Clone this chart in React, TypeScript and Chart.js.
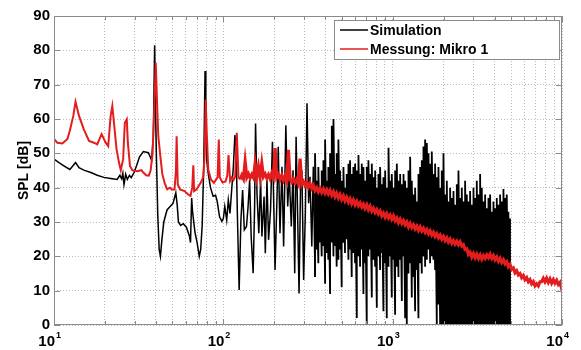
import React, { useEffect, useRef } from "react";
import { Chart, registerables } from "chart.js";

Chart.register(...registerables);

// ---------- axis definitions ----------
const xGridValues = [
  10, 20, 30, 40, 50, 60, 70, 80, 90,
  100, 200, 300, 400, 500, 600, 700, 800, 900,
  1000, 2000, 3000, 4000, 5000, 6000, 7000, 8000, 9000, 10000,
];
const xLabelValues = [10, 100, 1000, 10000];
const xLabelBase = "10";
const xLabelExponents = ["1", "2", "3", "4"];
const yTickValues = [0, 10, 20, 30, 40, 50, 60, 70, 80, 90];

const seriesNames = ["Simulation", "Messung: Mikro 1"];
const yAxisTitle = "SPL [dB]";

// ---------- Simulation: low frequency part (Hz / dB) ----------
const simLowFreq = [
  10, 10.7, 11.5, 12.4, 12.8, 13.4, 14.05, 15, 16.5, 18,
  19.7, 21.6, 23.6, 24.5, 25.1, 25.5, 25.9, 26.5, 27.1, 27.9,
  28.6, 29.7, 30.8, 32, 33.7, 36.1, 37.7, 38.6, 39.3, 39.8,
  40.3, 41, 41.8, 42.5, 43.4, 44.5, 46.5, 48.5, 50.5, 52.4,
  53.4, 54.3, 56, 58, 60.5, 63, 64, 65, 65.8, 68,
  70, 72.1, 73.5, 75, 76.5, 77.3, 78, 78.8, 79.8, 81.5,
  84, 87, 90, 92, 95, 98, 100, 102, 104.7, 107,
  109.5, 112, 114.6, 117, 119, 121, 124, 127, 130, 133,
  137, 140, 143, 146, 150, 153, 155, 158, 162, 166,
  169, 174, 177, 181, 185, 190, 195, 199, 202, 208,
  211, 216, 222, 227, 234, 240, 245, 252, 258, 264,
  269, 275, 280, 286, 291, 298, 305, 312, 319, 325,
  333, 340,
];
const simLowSPL = [
  48.3, 47.3, 46.3, 45.3, 46.1, 47.3, 45.8, 45.1, 44.4, 43.6,
  43.0, 42.7, 42.4, 43.6, 42.6, 44.2, 40.9, 43.9, 42.4, 43.6,
  42.9, 44.4, 46.5, 49, 50.5, 50.2, 48, 55, 81.5, 62,
  48, 32, 22, 20, 25, 30, 33.5, 34.5, 35.5, 38.5,
  35, 30, 29, 29.5, 28.5, 26, 24, 37, 33, 27,
  24, 20, 22, 29, 45, 60, 74, 57, 48, 44,
  40, 37.5, 37.8, 36, 31.5, 30.2, 31, 34.5, 30.6, 36.4,
  32.5, 39.3, 46.1, 55.3, 51.9, 32.5, 10.2, 30.6, 39.3, 27.7,
  28.7, 34.5, 42.2, 25.8, 15.1, 34.5, 58.7, 38.4, 26.7, 42.2,
  25.8, 37.4, 20.9, 42.2, 24.8, 33.5, 53.4, 32.5, 16, 39.3,
  51.9, 26.7, 46.1, 22.9, 58.2, 34.5, 44.2, 28.7, 45.1, 15.1,
  54.8, 30.6, 9.2, 42.2, 45.1, 13.1, 32.5, 64.6, 35.5, 43.2,
  22.9, 46.1,
];

// ---------- shared frequency grid for the dense part (Hz) ----------
const gridFreq = [
  107.3, 109.7, 112.2, 114.8, 117.4, 120.1, 122.9, 125.7, 128.6, 131.5,
  134.5, 137.6, 140.7, 144.0, 147.3, 150.6, 154.1, 157.6, 161.2, 164.9,
  168.7, 172.5, 176.5, 180.5, 184.7, 188.9, 193.2, 197.6, 202.2, 206.8,
  211.5, 216.4, 221.3, 226.4, 231.6, 236.9, 242.3, 247.8, 253.5, 259.3,
  265.2, 271.3, 277.5, 283.9, 290.4, 297.0, 303.8, 310.8, 317.9, 325.2,
  332.6, 340.2,
  348, 356, 364, 372, 381, 390, 399, 408, 417, 427,
  437, 447, 457, 467, 478, 489, 500, 512, 523, 535,
  548, 560, 573, 586, 600, 614, 628, 642, 657, 672,
  687, 703, 719, 736, 753, 770, 788, 806, 824, 843,
  862, 882, 903, 923, 945, 966, 988, 1011, 1034, 1058,
  1082, 1107, 1133, 1159, 1185, 1212, 1240, 1268, 1297, 1327,
  1357, 1388, 1420, 1453, 1486, 1520, 1555, 1591, 1627, 1664,
  1702, 1741, 1781, 1822, 1864, 1907, 1950, 1995, 2041, 2088,
  2135, 2184, 2234, 2286, 2338, 2392, 2446, 2502, 2560, 2618,
  2678, 2740, 2802, 2866, 2932, 3000, 3068, 3138, 3210, 3284,
  3359, 3436, 3515, 3595, 3678, 3762, 3848, 3936, 4026, 4119,
  4213, 4310, 4408, 4510, 4613, 4718, 4822,
  4933, 5046, 5161, 5279, 5400, 5524, 5650, 5780, 5912, 6047,
  6186, 6327, 6472, 6620, 6772, 6927, 7086, 7248, 7414, 7584,
  7758, 7935, 8117, 8303, 8493, 8687, 8886, 9090, 9298, 9511,
  9729, 9952, 10000,
];

// Simulation dense part: grid entries 52..169, min / max of each sample pair (dB)
const simDenseFirst = 52;
const simDenseLow = [
  14, 22, 18, 24, 20, 23, 12, 21, 19, 9,
  24, 20, 23, 17, 19, 22, 11, 24, 21, 25,
  19, 22, 14, 21, 18, 2, 20, 17, 22, 9,
  18, 0, 20, 22, 8, 19, 17, 5, 20, 16,
  21, 4, 18, 2, 17, 20, 8, 19, 3, 17,
  14, 19, 7, 20, 2, 0, 15, 18, 8, 14,
  4, 16, 2, 18, 15, 20, 17, 19, 22, 18,
  20, 19, 16, 0, 6, 0, 0, 0, 0, 0,
  0, 0, 0, 0, 0, 0, 0, 0, 0, 0,
  0, 0, 0, 0, 0, 0, 0, 0, 0, 0,
  0, 0, 0, 0, 0, 0, 0, 0, 0, 0,
  0, 0, 0, 0, 0, 0, 0, 0,
];
const simDenseHigh = [
  50, 42, 46, 40, 45, 48, 54, 42, 46, 50,
  58, 60, 44, 50, 54, 45, 42, 46, 40, 44,
  47, 48, 44, 46, 47, 45, 49.5, 44, 47, 46,
  42, 46, 48, 44, 47, 43, 45, 40, 44, 46,
  41, 43, 45, 40, 51.6, 42, 44, 40, 45, 47,
  42, 44, 41, 44, 42, 40, 45, 49, 42, 38,
  40, 36, 44, 46, 48, 52, 54, 53, 50, 47,
  50.5, 44, 47, 43, 46, 40, 45, 50, 38, 42,
  36, 40, 37, 39, 35, 41, 45, 37, 40, 36,
  42, 38, 36, 39, 35, 40, 37, 42, 38, 44,
  40, 36, 38, 34, 37, 38, 33, 36, 34, 37,
  35, 38, 36, 39.6, 37, 38, 33, 31,
];

// ---------- Measurement: low frequency part (Hz / dB) ----------
const measLowFreq = [
  10, 10.46, 11.2, 12, 12.4, 13, 13.4, 14.05, 15, 16.1,
  17.2, 18, 19.1, 20.2, 20.9, 21.6, 22.1, 22.6, 23.4, 24.2,
  24.8, 25.6, 26.2, 26.9, 27.3, 28.1, 29, 31, 32.8, 33.7,
  35, 36.3, 37.2, 38.2, 38.9, 39.9, 40.6, 41.3, 42.5, 43.6,
  45, 46.6, 48.4, 49.5, 51.5, 52.5, 53, 53.8, 55.5, 59,
  62, 64, 65.5, 66.5, 67.2, 69.5, 73.5, 76, 77.5, 78.7,
  79.8, 81.5, 84.5, 88, 92.5, 94, 95.3, 99, 103, 105.5,
];
const measLowSPL = [
  54.2, 53.1, 52.9, 54.2, 56.6, 60.9, 65.0, 60.9, 57.0, 53.6,
  53.1, 52.6, 55.6, 53.1, 52.1, 60.9, 63.8, 58.9, 51.2, 47.3,
  45.1, 48.3, 58.9, 59.9, 53.1, 46.3, 45.1, 44.8, 45.1, 44.4,
  43.6, 43.5, 45, 50, 60, 76.4, 64.7, 55, 49, 44,
  41.4, 39.5, 40, 39.5, 39.5, 45, 55, 41, 39.5, 39,
  38, 37.6, 40, 46.5, 39, 39.5, 41.4, 43, 49, 65.7,
  56, 45.2, 42.4, 41.4, 43, 54, 43, 41.5, 41.8, 43.5,
];
// Measurement on the shared grid (dB)
const measGridSPL = [
  49.5, 42.0, 43.0, 42.2, 43.2, 56.0, 43.0, 42.4, 43.6, 42.6,
  47.6, 43.0, 44.0, 42.8, 43.8, 42.9, 47.0, 43.2, 46.1, 43.0,
  47.0, 43.2, 44.0, 42.8, 43.8, 42.6, 44.2, 43.0, 51.5, 43.0,
  43.8, 42.4, 43.6, 42.2, 43.4, 42.0, 51.0, 42.4, 41.6, 42.6,
  41.4, 42.4, 41.2, 48.5, 41.0, 41.8, 40.6, 41.6, 40.2, 41.2,
  39.8, 40.6, 39.2, 40.0, 38.8, 39.8, 38.6, 39.6, 38.4, 39.4,
  38.2, 39.2, 37.8, 38.8, 37.4, 38.4, 37.0, 38.0, 36.6, 37.6,
  36.2, 37.2, 35.8, 36.8, 35.4, 36.4, 35.0, 36.0, 34.8, 35.6,
  34.4, 35.2, 34.0, 35.0, 33.6, 34.6, 33.2, 34.0, 32.8, 33.6,
  32.4, 33.2, 31.8, 32.6, 31.4, 32.4, 31.2, 32.0, 30.8, 31.8,
  30.4, 31.2, 29.8, 30.8, 29.6, 30.4, 29.2, 30.0, 28.6, 29.6,
  28.4, 29.2, 28.0, 28.8, 27.6, 28.6, 27.4, 28.2, 27.0, 27.8,
  26.6, 27.4, 26.2, 27.0, 25.8, 26.6, 25.4, 26.2, 25.0, 25.8,
  24.6, 25.4, 24.2, 25.0, 23.8, 24.6, 23.6, 24.4, 23.4, 24.2,
  23.0, 23.4, 22.0, 22.2, 20.6, 21.2, 19.8, 20.8, 19.6, 20.6,
  19.4, 20.4, 19.2, 20.2, 19.4, 20.4, 19.6, 20.6, 19.4, 20.2,
  19.0, 19.8, 18.6, 19.4, 18.2, 19.0, 17.8, 18.4, 17.0, 17.6,
  16.2, 16.6, 15.2, 15.8, 14.6, 15.0, 13.8, 14.4, 13.2, 13.8,
  12.6, 13.2, 12.0, 12.6, 11.4, 12.0, 11.4, 12.6, 12.6, 13.6,
  12.6, 13.6, 12.4, 13.4, 12.2, 13.2, 12.2, 13.0, 11.8, 12.4,
  10.6, 11.0,
];

// ---------- styling ----------
const FONT = "'Liberation Sans', Arial, Helvetica, sans-serif";
const SIM_COLOR = "#000000";
const MEAS_COLOR = "#e31d1d";
const AXIS_COLOR = "#8a8a8a";
const GRID_COLOR = "#bcbcbc";

function buildSimPoints() {
  const pts: { x: number; y: number }[] = simLowFreq.map((f, i) => ({ x: f, y: simLowSPL[i] }));
  simDenseLow.forEach((lo, i) => {
    const f = gridFreq[simDenseFirst + i];
    pts.push({ x: f, y: lo });
    pts.push({ x: f, y: simDenseHigh[i] });
  });
  return pts;
}

function buildMeasPoints() {
  const pts: { x: number; y: number }[] = measLowFreq.map((f, i) => ({ x: f, y: measLowSPL[i] }));
  gridFreq.forEach((f, i) => pts.push({ x: f, y: measGridSPL[i] }));
  return pts;
}

const framePlugin = {
  id: "matlabFrame",
  afterDraw(chart: any) {
    const { ctx, chartArea: a } = chart;
    const xs = chart.scales.x;
    const ys = chart.scales.y;
    ctx.save();
    ctx.strokeStyle = AXIS_COLOR;
    ctx.lineWidth = 1;
    ctx.setLineDash([]);
    ctx.beginPath();
    xGridValues.forEach((v) => {
      const px = Math.round(xs.getPixelForValue(v)) + 0.5;
      const len = xLabelValues.includes(v) ? 6 : 4;
      ctx.moveTo(px, a.bottom);
      ctx.lineTo(px, a.bottom - len);
      ctx.moveTo(px, a.top);
      ctx.lineTo(px, a.top + len);
    });
    yTickValues.forEach((v) => {
      const py = Math.round(ys.getPixelForValue(v)) + 0.5;
      ctx.moveTo(a.left, py);
      ctx.lineTo(a.left + 6, py);
      ctx.moveTo(a.right, py);
      ctx.lineTo(a.right - 6, py);
    });
    ctx.stroke();
    ctx.strokeRect(Math.round(a.left) + 0.5, Math.round(a.top) + 0.5,
      Math.round(a.right - a.left) - 1, Math.round(a.bottom - a.top) - 1);

    // x tick labels as 10^n
    ctx.fillStyle = "#000";
    xLabelValues.forEach((v, i) => {
      const px = xs.getPixelForValue(v);
      ctx.font = `bold 15px ${FONT}`;
      ctx.textAlign = "right";
      ctx.textBaseline = "alphabetic";
      ctx.fillText(xLabelBase, px + 1, 346);
      ctx.font = `bold 9px ${FONT}`;
      ctx.textAlign = "left";
      ctx.fillText(xLabelExponents[i], px + 2, 338);
    });

    // legend box
    const boxW = 225;
    const boxH = 39;
    const boxR = Math.round(a.right) - 3;
    const boxT = Math.round(a.top) + 4;
    const boxL = boxR - boxW;
    ctx.fillStyle = "#fff";
    ctx.fillRect(boxL, boxT, boxW, boxH);
    ctx.strokeStyle = AXIS_COLOR;
    ctx.strokeRect(boxL + 0.5, boxT + 0.5, boxW, boxH);
    const colors = [SIM_COLOR, MEAS_COLOR];
    const rows = [boxT + 10, boxT + 29];
    seriesNames.forEach((name, i) => {
      ctx.strokeStyle = colors[i];
      ctx.lineWidth = 1.5;
      ctx.beginPath();
      ctx.moveTo(boxL + 6, rows[i]);
      ctx.lineTo(boxL + 34, rows[i]);
      ctx.stroke();
      ctx.fillStyle = "#000";
      ctx.font = `bold 14px ${FONT}`;
      ctx.textAlign = "left";
      ctx.textBaseline = "middle";
      ctx.fillText(name, boxL + 36, rows[i] + 1);
    });
    ctx.restore();
  },
};

export default function App() {
  const canvasRef = useRef<HTMLCanvasElement | null>(null);

  useEffect(() => {
    const canvas = canvasRef.current;
    if (!canvas) return;
    const chart = new Chart(canvas, {
      type: "line",
      data: {
        datasets: [
          {
            label: seriesNames[0],
            data: buildSimPoints(),
            borderColor: SIM_COLOR,
            borderWidth: 1.5,
            pointRadius: 0,
            tension: 0,
            fill: false,
            order: 2,
            segment: {
              borderWidth: (c: any) => (c.p0.parsed.x >= 345 ? 1.8 : 1.5),
            },
          },
          {
            label: seriesNames[1],
            data: buildMeasPoints(),
            borderColor: MEAS_COLOR,
            borderWidth: 2,
            pointRadius: 0,
            tension: 0,
            fill: false,
            order: 1,
            segment: {
              borderWidth: (c: any) => (c.p0.parsed.x >= 125 ? 3.2 : 2),
            },
          },
        ],
      },
      options: {
        animation: false,
        responsive: false,
        devicePixelRatio: 1,
        events: [],
        layout: { padding: { top: 16, right: 19, left: 0, bottom: 0 } },
        plugins: {
          legend: { display: false },
          tooltip: { enabled: false },
        },
        scales: {
          x: {
            type: "logarithmic",
            min: 10,
            max: 10000,
            afterBuildTicks: (scale: any) => {
              scale.ticks = xGridValues.map((v) => ({ value: v, major: xLabelValues.includes(v) }));
            },
            afterFit: (scale: any) => {
              scale.height = 25;
            },
            ticks: { display: false, autoSkip: false },
            grid: { color: GRID_COLOR, lineWidth: 1, drawTicks: false },
            border: { display: false, dash: [1, 2] },
          },
          y: {
            type: "linear",
            min: 0,
            max: 90,
            afterBuildTicks: (scale: any) => {
              scale.ticks = yTickValues.map((v) => ({ value: v }));
            },
            afterFit: (scale: any) => {
              scale.width = 54;
            },
            ticks: {
              color: "#000",
              font: { family: FONT, size: 15, weight: "bold" },
              padding: 4,
            },
            title: {
              display: true,
              text: yAxisTitle,
              color: "#000",
              font: { family: FONT, size: 14, weight: "bold" },
              padding: { top: 16, bottom: 0 },
            },
            grid: { color: GRID_COLOR, lineWidth: 1, drawTicks: false },
            border: { display: false, dash: [1, 2] },
          },
        },
      },
      plugins: [framePlugin],
    });
    return () => chart.destroy();
  }, []);

  return (
    <div style={{ position: "absolute", left: 0, top: 0, width: 581, height: 350, background: "#fff" }}>
      <canvas ref={canvasRef} width={581} height={350} style={{ display: "block" }} />
    </div>
  );
}
